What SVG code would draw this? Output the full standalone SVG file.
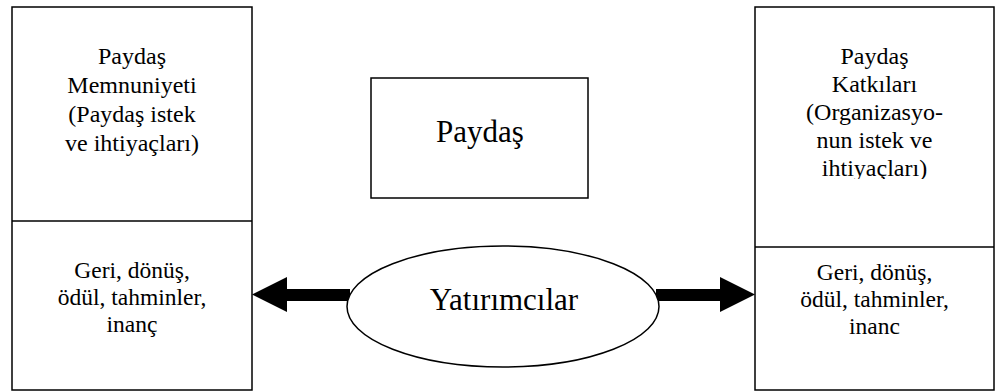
<svg xmlns="http://www.w3.org/2000/svg" width="995" height="392" viewBox="0 0 995 392">
  <style>
    .box { fill: #ffffff; stroke: #000000; stroke-width: 1.5; }
    .div { stroke: #000000; stroke-width: 1.5; }
    .t { fill: #000000; text-anchor: middle; }
    .head { font-size: 24px; }
    .sub { font-size: 23.5px; }
    .big { font-size: 31px; }
    .arrow { fill: #000000; stroke: none; }
  </style>
  <defs>
    <!-- text frame of the right panel cuts off the descenders of its last line -->
    <clipPath id="rightTextClip">
      <rect x="760" y="10" width="230" height="169"/>
    </clipPath>
  </defs>
  <rect width="995" height="392" fill="#ffffff"/>

  <g font-family="Liberation Serif, Times New Roman, Times, DejaVu Serif, serif">
    <!-- Left panel: satisfaction -->
    <g id="left-panel">
      <rect class="box" x="12" y="7" width="240" height="383"/>
      <line class="div" x1="12" y1="221" x2="252" y2="221"/>
      <text class="t head" x="132" y="64">Paydaş</text>
      <text class="t head" x="132" y="93">Memnuniyeti</text>
      <text class="t head" x="132" y="122">(Paydaş istek</text>
      <text class="t head" x="132" y="151">ve ihtiyaçları)</text>
      <text class="t sub" x="132" y="278">Geri, dönüş,</text>
      <text class="t sub" x="132" y="305">ödül, tahminler,</text>
      <text class="t sub" x="132" y="332">inanç</text>
    </g>

    <!-- Right panel: contributions -->
    <g id="right-panel">
      <rect class="box" x="755" y="7" width="239" height="383"/>
      <line class="div" x1="755" y1="247" x2="994" y2="247"/>
      <g clip-path="url(#rightTextClip)">
        <text class="t head" x="874.5" y="64">Paydaş</text>
        <text class="t head" x="874.5" y="92">Katkıları</text>
        <text class="t head" x="874.5" y="120">(Organizasyo-</text>
        <text class="t head" x="874.5" y="148">nun istek ve</text>
        <text class="t head" x="874.5" y="176">ihtiyaçları)</text>
      </g>
      <text class="t sub" x="874.5" y="280">Geri, dönüş,</text>
      <text class="t sub" x="874.5" y="307">ödül, tahminler,</text>
      <text class="t sub" x="874.5" y="334">inanc</text>
    </g>

    <!-- Central stakeholder box -->
    <g id="stakeholder">
      <rect class="box" x="371" y="78" width="217" height="120"/>
      <text class="t big" x="480" y="142">Paydaş</text>
    </g>

    <!-- Block arrows from the investors ellipse to both panels -->
    <g id="connectors">
      <polygon class="arrow" points="252,294.5 287,277 287,289 350,289 350,301 287,301 287,312"/>
      <polygon class="arrow" points="755,294.5 720,277 720,289 656,289 656,301 720,301 720,312"/>
    </g>

    <!-- Investors ellipse -->
    <g id="investors">
      <ellipse class="box" cx="503" cy="306.5" rx="156" ry="60.5"/>
      <text class="t big" x="504" y="310">Yatırımcılar</text>
    </g>
  </g>
</svg>
